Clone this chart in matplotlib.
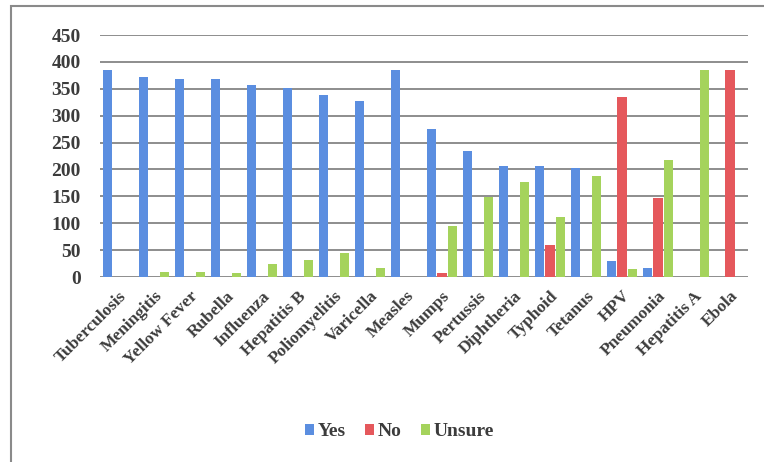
import matplotlib.pyplot as plt
import matplotlib.patches as mpatches
import numpy as np

# данные опроса по вакцинам
diseases = ['Tuberculosis', 'Meningitis', 'Yellow Fever', 'Rubella', 'Influenza',
            'Hepatitis B', 'Poliomyelitis', 'Varicella', 'Measles', 'Mumps',
            'Pertussis', 'Diphtheria', 'Typhoid', 'Tetanus', 'HPV', 'Pneumonia',
            'Hepatitis A', 'Ebola']
yes = [384, 372, 369, 368, 357, 351, 338, 327, 384, 275, 235, 206, 206, 202, 30, 17, 0, 0]
no = [0, 0, 0, 0, 0, 0, 0, 0, 0, 8, 0, 0, 60, 0, 334, 146, 0, 384]
unsure = [0, 10, 10, 8, 25, 32, 44, 17, 0, 95, 149, 177, 112, 188, 15, 217, 384, 0]

plt.rcParams['font.family'] = ['Liberation Serif', 'DejaVu Serif']

fig = plt.figure(figsize=(7.64, 4.62), dpi=100)
ax = fig.add_axes([100 / 764, 1 - 277 / 462, 648 / 764, 242 / 462])

# рамка вокруг диаграммы
fig.patches.append(mpatches.Rectangle((11 / 764, -0.05), 1.0, 1 - 6 / 462 + 0.05,
                                      transform=fig.transFigure, fill=False,
                                      edgecolor='#8a8a8a', linewidth=1.5))

x = np.arange(len(diseases))
w = 0.3
ax.bar(x - w, yes, w * 0.85, color='#5b8ee0', label='Yes', zorder=3)
ax.bar(x, no, w * 0.85, color='#e5585c', label='No', zorder=3)
ax.bar(x + w, unsure, w * 0.85, color='#a5d35c', label='Unsure', zorder=3)

ax.set_xlim(-0.5, len(diseases) - 0.5)
ax.set_ylim(0, 450)
ax.set_yticks(range(0, 451, 50))
ax.yaxis.grid(True, color='#7a7a7a', linewidth=1.2, zorder=0)
ax.set_axisbelow(True)
for s in ax.spines.values():
    s.set_visible(False)
ax.tick_params(axis='both', length=0)
ax.tick_params(axis='y', labelsize=14, pad=14, labelcolor='#3c3c3c')
for t in ax.get_yticklabels():
    t.set_fontweight('bold')
ax.set_xticks(x)
ax.set_xticklabels(diseases, rotation=45, ha='right', rotation_mode='anchor',
                   fontsize=12.5, fontweight='bold', color='#3c3c3c')
ax.tick_params(axis='x', pad=8)

leg = fig.legend(loc='center', bbox_to_anchor=(0.523, 1 - 432 / 462), ncol=3,
                 frameon=False, prop={'size': 14, 'weight': 'bold'},
                 handlelength=0.45, handleheight=0.45,
                 handletextpad=0.2, columnspacing=1.0)
for t in leg.get_texts():
    t.set_color('#3c3c3c')

plt.savefig('out.png', dpi=100)
